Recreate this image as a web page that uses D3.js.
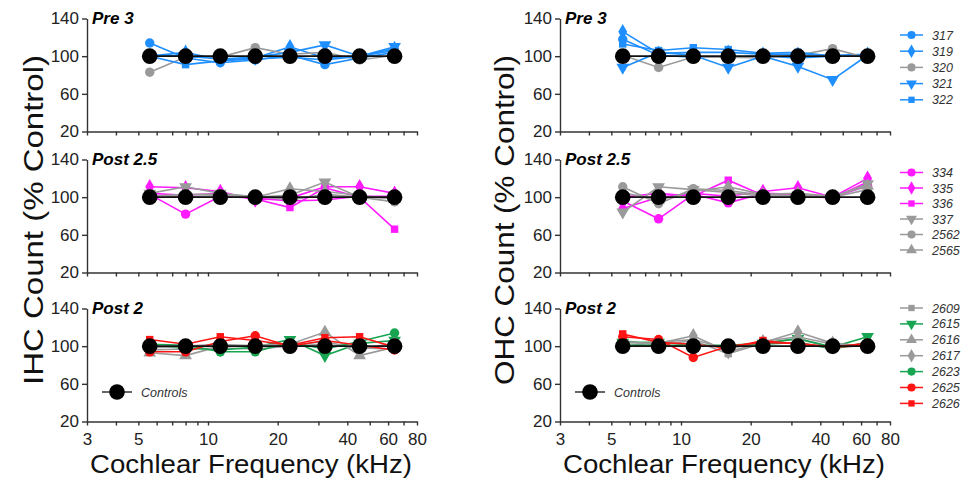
<!DOCTYPE html>
<html>
<head>
<meta charset="utf-8">
<script src="https://cdn.jsdelivr.net/npm/d3@7"></script>
<style>
  body { margin: 0; background: #fff; }
  svg { font-family: 'Liberation Sans', Arial, sans-serif; }
  .axis path, .axis line { stroke: #333; stroke-width: 1.4; }
  .axis text { font-size: 17px; fill: #222; }
</style>
</head>
<body>
<svg id="fig" width="968" height="485"></svg>
<script>
// half-octave sample points (kHz)
var freqs = [5.6, 8, 11.3, 16, 22.6, 32, 45.2, 64];
var controls = [100, 100, 100, 100, 100, 100, 100, 100];
var xTicks = [3, 4, 5, 6, 7, 8, 9, 10, 20, 30, 40, 50, 60, 70, 80];
var xLabels = [3, 5, 10, 20, 40, 60, 80];
var yTicks = [20, 60, 100, 140];
var panelTitles = ['Pre 3', 'Post 2.5', 'Post 2'];

// series: id, colour, marker
var pre3Series = [
  { id: '317', color: 'blue', shape: 'circle' },
  { id: '319', color: 'blue', shape: 'diamond' },
  { id: '320', color: 'gray', shape: 'circle' },
  { id: '321', color: 'blue', shape: 'down' },
  { id: '322', color: 'blue', shape: 'square' }
];
var post25Series = [
  { id: '334', color: 'magenta', shape: 'circle' },
  { id: '335', color: 'magenta', shape: 'diamond' },
  { id: '336', color: 'magenta', shape: 'square' },
  { id: '337', color: 'gray', shape: 'down' },
  { id: '2562', color: 'gray', shape: 'circle' },
  { id: '2565', color: 'gray', shape: 'up' }
];
var post2Series = [
  { id: '2609', color: 'gray', shape: 'square' },
  { id: '2615', color: 'green', shape: 'down' },
  { id: '2616', color: 'gray', shape: 'up' },
  { id: '2617', color: 'gray', shape: 'diamond' },
  { id: '2623', color: 'green', shape: 'circle' },
  { id: '2625', color: 'red', shape: 'circle' },
  { id: '2626', color: 'red', shape: 'square' }
];

// IHC values (% control)
var ihcPre3 = [
  [114, 98, 93, 96, 101, 91, 98, 104],
  [100, 104, 96, 98, 110, 98, 100, 108],
  [83, 99, 99, 109, 102, 104, 96, 101],
  [101, 100, 97, 99, 104, 112, 100, 110],
  [100, 91, 95, 97, 99, 96, 100, 106]
];
var ihcPost25 = [
  [103, 82, 101, 99, 96, 97, 101, 101],
  [111, 110, 106, 97, 99, 111, 111, 104],
  [104, 102, 104, 98, 89, 110, 100, 66],
  [104, 111, 104, 100, 102, 116, 100, 99],
  [101, 103, 103, 101, 97, 103, 100, 95],
  [102, 100, 102, 100, 109, 106, 102, 98]
];
var ihcPost2 = [
  [96, 97, 98, 97, 100, 102, 98, 97],
  [100, 98, 96, 99, 107, 90, 103, 106],
  [93, 90, 100, 101, 102, 115, 90, 99],
  [98, 100, 102, 100, 101, 105, 97, 103],
  [102, 101, 94, 94, 104, 97, 105, 114],
  [94, 94, 105, 111, 100, 106, 101, 96],
  [107, 102, 110, 106, 101, 109, 110, 99]
];

// OHC values (% control)
var ohcPre3 = [
  [118, 101, 99, 99, 100, 98, 100, 100],
  [126, 103, 104, 104, 102, 102, 101, 102],
  [101, 88, 99, 99, 98, 101, 108, 98],
  [88, 104, 101, 88, 100, 89, 75, 101],
  [113, 106, 109, 107, 103, 104, 100, 100]
];
var ohcPost25 = [
  [96, 77, 103, 94, 104, 103, 100, 112],
  [88, 100, 104, 101, 106, 110, 100, 120],
  [100, 104, 101, 118, 102, 102, 99, 116],
  [84, 111, 108, 105, 101, 102, 100, 114],
  [111, 93, 109, 107, 102, 101, 100, 108],
  [105, 97, 106, 111, 103, 104, 101, 112]
];
var ohcPost2 = [
  [106, 101, 106, 92, 103, 108, 98, 101],
  [104, 104, 101, 101, 103, 108, 99, 110],
  [100, 104, 107, 97, 105, 110, 102, 101],
  [104, 103, 111, 94, 104, 115, 103, 100],
  [101, 101, 100, 100, 102, 104, 97, 104],
  [110, 107, 88, 100, 104, 103, 99, 103],
  [113, 104, 102, 98, 106, 102, 99, 101]
];

var colors = {
  blue: '#1f8fff',
  gray: '#9a9a9a',
  magenta: '#ff1aff',
  green: '#17a552',
  red: '#ff1414'
};

var svg = d3.select('#fig');

var rows = [
  { top: 18.5, series: pre3Series, ihc: ihcPre3, ohc: ohcPre3 },
  { top: 159.5, series: post25Series, ihc: ihcPost25, ohc: ohcPost25 },
  { top: 308.5, series: post2Series, ihc: ihcPost2, ohc: ohcPost2 }
];
var panelH = 113;
var cols = [{ x0: 87, x1: 417, key: 'ihc' }, { x0: 560, x1: 890, key: 'ohc' }];

function symbolPath(shape, size) {
  var type = d3.symbolCircle;
  if (shape === 'diamond') type = d3.symbolDiamond;
  if (shape === 'square') type = d3.symbolSquare;
  if (shape === 'up' || shape === 'down') type = d3.symbolTriangle;
  return d3.symbol().type(type).size(size)();
}

function drawMarker(g, shape, color, cx, cy, size) {
  var rot = shape === 'down' ? ' rotate(180)' : '';
  g.append('path')
    .attr('d', symbolPath(shape, size))
    .attr('transform', 'translate(' + cx + ',' + cy + ')' + rot)
    .attr('fill', color);
}

rows.forEach(function (row, ri) {
  cols.forEach(function (col) {
    var x = d3.scaleLog().domain([3, 80]).range([col.x0, col.x1]);
    var y = d3.scaleLinear().domain([20, 140]).range([row.top + panelH, row.top]);
    var g = svg.append('g');

    var xAxis = d3.axisBottom(x)
      .tickValues(xTicks)
      .tickSize(4)
      .tickSizeOuter(0)
      .tickFormat(function (d) { return xLabels.indexOf(d) >= 0 ? d : ''; });

    var xg = g.append('g')
      .attr('class', 'axis')
      .attr('transform', 'translate(0,' + y(20) + ')')
      .call(xAxis);
    if (ri < 2) xg.selectAll('text').remove();
    xg.selectAll('text').attr('dy', '0.95em');

    g.append('g')
      .attr('class', 'axis')
      .attr('transform', 'translate(' + col.x0 + ',0)')
      .call(d3.axisLeft(y).tickValues(yTicks).tickSize(5).tickSizeOuter(0));

    var line = d3.line()
      .x(function (d, i) { return x(freqs[i]); })
      .y(function (d) { return y(d); });

    var vals = row[col.key];
    row.series.forEach(function (s, si) {
      var c = colors[s.color];
      g.append('path')
        .attr('d', line(vals[si]))
        .attr('fill', 'none')
        .attr('stroke', c)
        .attr('stroke-width', 1.6);
      vals[si].forEach(function (v, i) {
        drawMarker(g, s.shape, c, x(freqs[i]), y(v), s.shape === 'square' ? 55 : 70);
      });
    });

    // controls on top
    g.append('path')
      .attr('d', line(controls))
      .attr('fill', 'none')
      .attr('stroke', '#111')
      .attr('stroke-width', 1.8);
    g.selectAll('.ctrl')
      .data(controls)
      .enter()
      .append('circle')
      .attr('cx', function (d, i) { return x(freqs[i]); })
      .attr('cy', function (d) { return y(d); })
      .attr('r', 7.8)
      .attr('fill', '#000');

    g.append('text')
      .attr('x', col.x0 + 5)
      .attr('y', row.top + 5)
      .style('font-size', '17px')
      .style('font-weight', 'bold')
      .style('font-style', 'italic')
      .text(panelTitles[ri]);

    if (ri === 2) {
      var ly = 392;
      g.append('line')
        .attr('x1', col.x0 + 15).attr('x2', col.x0 + 45)
        .attr('y1', ly).attr('y2', ly)
        .attr('stroke', '#333').attr('stroke-width', 1.5);
      g.append('circle')
        .attr('cx', col.x0 + 30).attr('cy', ly).attr('r', 7.8)
        .attr('fill', '#000');
      g.append('text')
        .attr('x', col.x0 + 54).attr('y', ly + 4.5)
        .style('font-size', '12.5px')
        .style('font-style', 'italic')
        .style('fill', '#333')
        .text('Controls');

      g.append('text')
        .attr('x', (col.x0 + col.x1) / 2 - 1)
        .attr('y', 473)
        .attr('text-anchor', 'middle')
        .attr('textLength', 322)
        .attr('lengthAdjust', 'spacingAndGlyphs')
        .style('font-size', '26px')
        .style('fill', '#111')
        .text('Cochlear Frequency (kHz)');
    }
  });

  // legend for this row
  var legTop = [35, 172.5, 308][ri];
  var legStep = [16.2, 15.5, 15.9][ri];
  var lg = svg.append('g');
  row.series.forEach(function (s, si) {
    var yy = legTop + si * legStep;
    var c = colors[s.color];
    lg.append('line')
      .attr('x1', 900).attr('x2', 923)
      .attr('y1', yy).attr('y2', yy)
      .attr('stroke', c).attr('stroke-width', 1.5);
    drawMarker(lg, s.shape, c, 911.5, yy, s.shape === 'square' ? 40 : 52);
    lg.append('text')
      .attr('x', 932).attr('y', yy + 4.5)
      .style('font-size', '12.5px')
      .style('font-style', 'italic')
      .style('fill', '#333')
      .text(s.id);
  });
});

// y axis titles
[{ x: 43, label: 'IHC Count (% Control)' }, { x: 514, label: 'OHC Count (% Control)' }].forEach(function (t) {
  svg.append('text')
    .attr('transform', 'translate(' + t.x + ',220) rotate(-90)')
    .attr('text-anchor', 'middle')
    .attr('textLength', 330)
    .attr('lengthAdjust', 'spacingAndGlyphs')
    .style('font-size', '28px')
    .style('fill', '#111')
    .text(t.label);
});
</script>
</body>
</html>
